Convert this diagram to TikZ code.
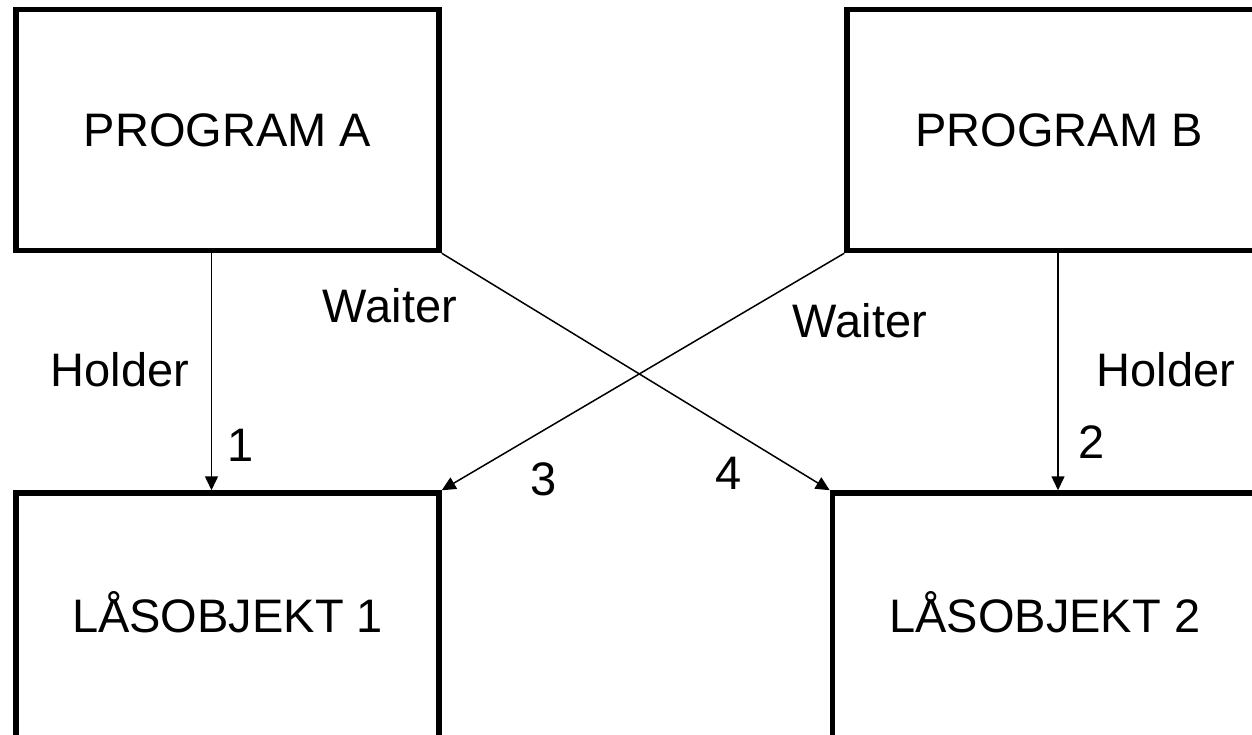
\documentclass[tikz,border=0pt]{standalone}
\usepackage{fontspec}
\setmainfont{Liberation Sans}
\usetikzlibrary{arrows.meta}
\begin{document}
\begin{tikzpicture}[x=1pt,y=-1pt,
  box/.style={draw, line width=5.5pt, rectangle, inner sep=0pt,
    font=\fontsize{47}{56}\selectfont, text height=33.7pt, text depth=0pt},
  lbl/.style={anchor=base, inner sep=0pt, font=\fontsize{47}{56}\selectfont},
  arr/.style={line width=1.5pt, -{Triangle[length=14pt,width=13pt]}}]
\useasboundingbox (0,0) rectangle (1252,734);
\node[box, minimum width=423pt, minimum height=241pt] (A) at (227.5,130) {PROGRAM A};
\node[box, minimum width=424pt, minimum height=241pt] (B) at (1059,130) {PROGRAM B};
\node[box, minimum width=423pt, minimum height=245pt] (L1) at (227.5,615.5) {LÅSOBJEKT 1};
\node[box, minimum width=424.5pt, minimum height=245pt] (L2) at (1044.75,615.5) {LÅSOBJEKT 2};
\coordinate (x1) at (211.5,0);
\coordinate (x2) at (1058,0);
\draw[arr] (A.south -| x1) -- (L1.north -| x1);
\draw[arr] (B.south -| x2) -- (L2.north -| x2);
\draw[arr] (B.south west) -- (L1.north east);
\draw[arr] (A.south east) -- (L2.north west);
\node[lbl] (h1) at (120,386) {Holder};
\node[lbl] (w1) at (390,322) {Waiter};
\node[lbl] (w2) at (860,337) {Waiter};
\node[lbl] (h2) at (1166,386) {Holder};
\node[lbl] (n1) at (240.5,461) {1};
\node[lbl] (n2) at (1092,458) {2};
\node[lbl] (n3) at (543.5,495) {3};
\node[lbl] (n4) at (728.5,489) {4};
\end{tikzpicture}
\end{document}
